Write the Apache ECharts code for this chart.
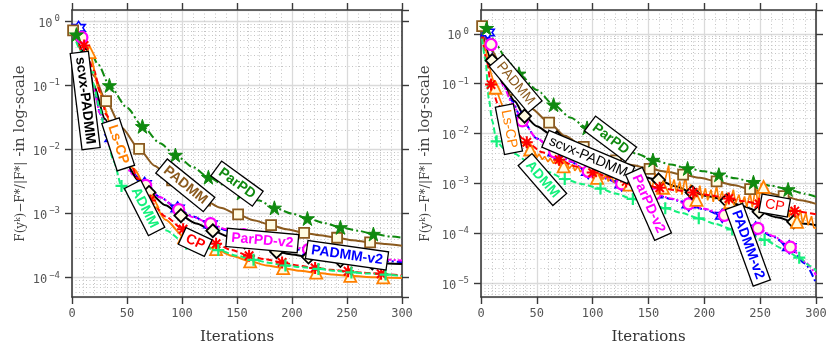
<!DOCTYPE html>
<html><head><meta charset="utf-8">
<script src="https://cdn.jsdelivr.net/npm/echarts@6/dist/echarts.min.js"></script>
<style>html,body{margin:0;padding:0;background:#fff}#c{width:830px;height:350px}</style>
</head><body><div id="c"></div>
<script>
// ---------------- DATA (iteration, relative error) ----------------
// Left panel
const L_PADMM   = [[1,0.72],[10,0.32],[20,0.14],[31,0.057],[45,0.022],[61,0.0102],[75,0.0056],[91,0.0033],[105,0.0022],[121,0.0016],[135,0.00123],[151,0.00097],[165,0.00079],[181,0.00066],[195,0.00057],[211,0.0005],[225,0.00046],[241,0.00042],[255,0.000385],[271,0.000355],[285,0.000335],[300,0.000315]];
const L_ParPD   = [[1,0.7],[4,0.62],[15,0.38],[24,0.21],[34,0.1],[50,0.045],[64,0.023],[80,0.0125],[94,0.0082],[110,0.0053],[124,0.0037],[140,0.0027],[154,0.0021],[170,0.0016],[184,0.00123],[200,0.001],[214,0.00084],[230,0.00071],[244,0.00061],[260,0.00054],[274,0.00048],[290,0.00044],[300,0.00042]];
const L_PADMMv2 = [[1,0.85],[6,0.79],[12,0.32],[20,0.085],[26,0.035],[30,0.024],[36,0.015],[42,0.0095],[48,0.0062],[55,0.0043],[66,0.0029],[80,0.0018],[96,0.0012],[110,0.0009],[126,0.00068],[140,0.00055],[156,0.00044],[170,0.00037],[186,0.00031],[200,0.00028],[216,0.00026],[230,0.000235],[246,0.000215],[260,0.0002],[276,0.00019],[290,0.00018],[300,0.000175]];
const L_ParPDv2 = [[1,0.8],[9,0.56],[15,0.2],[20,0.09],[25,0.038],[30,0.025],[38,0.013],[48,0.0058],[55,0.0041],[67,0.00275],[80,0.0018],[97,0.00115],[110,0.00088],[126,0.0007],[140,0.00057],[156,0.00047],[170,0.0004],[185,0.00034],[200,0.0003],[215,0.000275],[230,0.00025],[245,0.00023],[260,0.00021],[275,0.000197],[290,0.00019],[300,0.000185]];
const L_scvx    = [[1,0.75],[12,0.3],[20,0.1],[30,0.03],[41,0.011],[50,0.0058],[60,0.0033],[70,0.00214],[85,0.00135],[99,0.00093],[113,0.0007],[128,0.00054],[142,0.00044],[157,0.00036],[171,0.0003],[186,0.000255],[200,0.00023],[215,0.00021],[230,0.000195],[244,0.000185],[258,0.000175],[273,0.00017],[287,0.000166],[300,0.000163]];
const L_CP      = [[1,0.72],[11,0.42],[20,0.17],[26,0.075],[31,0.035],[41,0.014],[50,0.0085],[60,0.0035],[71,0.0016],[85,0.0009],[101,0.00057],[115,0.00044],[131,0.00034],[145,0.00027],[161,0.00022],[175,0.000195],[191,0.000173],[205,0.000155],[221,0.000142],[235,0.000133],[251,0.000126],[265,0.00012],[281,0.000115],[300,0.000108]];
const L_LsCP    = [[1,0.75],[8,0.55],[16,0.33],[25,0.08],[35,0.025],[44,0.011],[56,0.005],[73,0.00155],[85,0.0008],[102,0.00043],[116,0.00034],[131,0.00028],[145,0.00022],[162,0.00018],[177,0.000155],[192,0.000141],[207,0.000128],[222,0.00012],[237,0.000112],[253,0.000107],[268,0.000103],[283,0.000101],[300,0.000099]];
const L_ADMM    = [[1,0.65],[8,0.35],[15,0.16],[19,0.11],[25,0.045],[30,0.02],[38,0.0065],[45,0.0027],[55,0.0016],[65,0.00105],[74,0.00076],[85,0.00055],[104,0.00034],[118,0.0003],[133,0.00027],[150,0.00022],[165,0.00019],[180,0.00017],[194,0.000155],[210,0.000145],[224,0.000137],[240,0.000128],[254,0.000121],[270,0.000116],[285,0.000112],[300,0.000106]];
// Right panel
const R_PADMM   = [[1,1.43],[10,0.45],[20,0.17],[30,0.075],[45,0.032],[61,0.0166],[75,0.009],[92,0.0054],[106,0.0039],[121,0.0029],[135,0.00235],[151,0.00197],[166,0.00172],[181,0.0015],[196,0.0013],[211,0.0011],[226,0.00093],[241,0.00077],[256,0.00065],[271,0.00056],[286,0.00046],[300,0.00039]];
const R_ParPD   = [[1,1.4],[5,1.3],[15,0.55],[22,0.32],[34,0.158],[50,0.075],[65,0.038],[80,0.021],[95,0.013],[110,0.0082],[124,0.0056],[140,0.0039],[154,0.00295],[170,0.0024],[185,0.002],[200,0.00175],[213,0.0015],[228,0.00127],[244,0.00106],[260,0.0009],[275,0.00076],[290,0.00062],[300,0.00054]];
const R_PADMMv2 = [[1,1.1],[6,1.06],[12,0.35],[20,0.1],[28,0.045],[36,0.02],[50,0.008],[66,0.0042],[80,0.00275],[96,0.0017],[110,0.00128],[126,0.00096],[140,0.00076],[156,0.0006],[170,0.00049],[186,0.00038],[200,0.0003],[216,0.000225],[232,0.00017],[246,0.000125],[262,0.000085],[276,0.000053],[290,0.000025],[300,0.00001]];
const R_ParPDv2 = [[1,1.0],[9,0.61],[15,0.2],[20,0.09],[28,0.04],[37,0.018],[50,0.008],[66,0.0043],[80,0.0028],[96,0.00174],[110,0.0013],[126,0.00098],[140,0.00078],[156,0.00062],[170,0.0005],[186,0.00039],[200,0.00031],[218,0.00023],[232,0.000175],[248,0.000126],[262,0.000088],[277,0.000053],[290,0.000027],[300,0.0000145]];
const R_scvx    = [[1,1.0],[10,0.29],[20,0.1],[30,0.045],[39,0.0224],[50,0.014],[62,0.0098],[68,0.0082],[80,0.0056],[98,0.0032],[115,0.0021],[128,0.0016],[145,0.00135],[159,0.00118],[174,0.00088],[189,0.00066],[205,0.00055],[220,0.00045],[235,0.00035],[249,0.00027],[265,0.00021],[280,0.00017],[290,0.000155],[300,0.000145]];
const R_CP      = [[1,0.9],[5,0.3],[9,0.096],[15,0.04],[20,0.025],[30,0.011],[41,0.0067],[55,0.0042],[70,0.003],[85,0.0022],[100,0.00165],[115,0.00135],[130,0.0011],[145,0.00095],[160,0.00082],[175,0.00073],[190,0.00066],[205,0.00058],[222,0.0005],[235,0.00044],[249,0.00039],[265,0.00033],[281,0.00028],[300,0.00024]];
const R_LsCP    = [[1,1.0],[5,0.4],[9,0.16],[13,0.083],[20,0.032],[29,0.0114],[38,0.0062],[44,0.0048],[46,0.0036],[48,0.0044],[50,0.0033],[52,0.0039],[55,0.003],[57,0.0035],[60,0.0027],[62,0.0032],[65,0.0025],[67,0.003],[70,0.0023],[72,0.0027],[74,0.0022],[77,0.0026],[79,0.002],[82,0.0024],[84,0.0018],[87,0.0022],[89,0.0017],[92,0.002],[94,0.00155],[97,0.0019],[99,0.00145],[102,0.00175],[104,0.00129],[107,0.0016],[109,0.0012],[112,0.0015],[114,0.0011],[117,0.0014],[119,0.00105],[122,0.00135],[124,0.00098],[127,0.00125],[129,0.0009],[131,0.0012],[133,0.00095],[136,0.0013],[138,0.00085],[141,0.00115],[143,0.00078],[146,0.0014],[148,0.0008],[151,0.0011],[153,0.00075],[156,0.0016],[158,0.0008],[161,0.0013],[163,0.00082],[166,0.0015],[168,0.0023],[170,0.00075],[173,0.0012],[175,0.00065],[178,0.0011],[180,0.0006],[183,0.0014],[185,0.00065],[188,0.00095],[190,0.00055],[193,0.00047],[196,0.0009],[198,0.0005],[201,0.0008],[203,0.00046],[206,0.00075],[208,0.00043],[211,0.0009],[213,0.00045],[216,0.0007],[218,0.0004],[221,0.00065],[223,0.00042],[226,0.00075],[228,0.0004],[231,0.0006],[233,0.00036],[236,0.00055],[238,0.00034],[241,0.00065],[243,0.00033],[246,0.00085],[248,0.00038],[251,0.001],[253,0.00085],[256,0.00032],[258,0.0005],[261,0.00028],[263,0.00046],[266,0.00026],[268,0.00042],[271,0.00023],[273,0.00038],[276,0.00021],[278,0.00034],[281,0.00019],[283,0.00017],[286,0.0003],[288,0.00016],[291,0.00026],[293,0.000145],[296,0.00022],[298,0.00013],[300,0.000126]];
const R_ADMM    = [[1,0.8],[4,0.3],[7,0.05],[10,0.018],[14,0.007],[20,0.0052],[29,0.004],[45,0.0025],[60,0.0017],[75,0.00123],[90,0.00098],[107,0.00079],[120,0.00063],[136,0.00049],[150,0.0004],[165,0.00032],[180,0.000255],[195,0.0002],[210,0.000155],[225,0.00012],[240,0.000094],[254,0.000074],[270,0.00005],[285,0.0000325],[295,0.000022],[300,0.0000178]];

// iterations at which a marker is drawn
const L_MK = {
  PADMM:[1,31,61,91,121,151,181,211,241,271], ParPD:[4,34,64,94,124,154,184,214,244,274],
  PADMMv2:[6,36,66,96,126,156,186,216,246,276], ParPDv2:[9,38,67,97,126,156,185,215,245,275],
  scvx:[12,41,70,99,128,157,186,215,244,273], CP:[11,41,71,101,131,161,191,221,251,281],
  LsCP:[16,44,73,102,131,162,192,222,253,283], ADMM:[15,45,74,104,133,165,194,224,254,285]
};
const R_MK = {
  PADMM:[1,30,61,92,121,151,181,211,241,271], ParPD:[5,34,65,95,124,154,185,213,244,275],
  PADMMv2:[6,36,66,96,126,156,186,216,246,276], ParPDv2:[9,37,66,96,126,156,186,218,248,277],
  scvx:[10,39,68,98,128,159,189,220,249,280], CP:[9,41,70,100,130,160,190,222,249,281],
  LsCP:[13,44,74,104,133,163,193,223,253,283], ADMM:[14,45,75,107,136,165,195,225,254,285]
};

// text annotations: [text, method, iteration, value, angle, bold]
const L_NOTES = [
  ['scvx-PADMM','scvx',12,0.058,-83,true], ['Ls-CP','LsCP',42,0.012,-72,true],
  ['ADMM','ADMM',66,0.00123,-63,true], ['PADMM','PADMM',103,0.00276,-39,true],
  ['ParPD','ParPD',150,0.00294,-36,true], ['CP','CP',112,0.00036,-25,true],
  ['ParPD-v2','ParPDv2',173,0.00038,-5,true], ['PADMM-v2','PADMMv2',250,0.000224,-8,true]
];
const R_NOTES = [
  ['PADMM','PADMM',31,0.1,-50,false], ['Ls-CP','LsCP',25,0.0123,-79,false],
  ['ParPD','ParPD',116,0.0078,-37,true], ['scvx-PADMM','scvx',96,0.0034,-23,false],
  ['ADMM','ADMM',55,0.0012,-49,true], ['ParPD-v2','ParPDv2',150,0.00039,-66,true],
  ['CP','CP',263,0.00036,-10,false], ['PADMM-v2','PADMMv2',239,0.000059,-70,true]
];

// ---------------- STYLE ----------------
const CREAM = '#fffbe2';
const P_STAR5 = 'path://M50,0L61.2,34.5L97.6,34.5L68.2,55.9L79.4,90.5L50,69.1L20.6,90.5L31.8,55.9L2.4,34.5L38.8,34.5Z';
const P_STAR6 = 'path://M50,0L64.4,25L93.3,25L78.9,50L93.3,75L64.4,75L50,100L35.6,75L6.7,75L21.1,50L6.7,25L35.6,25Z';
const P_PLUS = 'path://M5,0L5,10M0,5L10,5';
const P_AST = 'path://M5,0L5,10M0,5L10,5M1.5,1.5L8.5,8.5M8.5,1.5L1.5,8.5';
const STY = {
  PADMMv2:{color:'#0000ff', type:[7,3,2,3], symbol:P_STAR6, size:13, fill:'#ffffff', bw:1.6},
  ParPDv2:{color:'#ff00ff', type:[2,2,6,2], symbol:'circle', size:11, fill:CREAM, bw:2.2},
  scvx:{color:'#000000', type:'solid', symbol:'diamond', size:13, fill:CREAM, bw:1.8},
  PADMM:{color:'#8b5a1e', type:'solid', symbol:'rect', size:10, fill:CREAM, bw:1.8},
  ParPD:{color:'#108a10', type:[8,3,2,3], symbol:P_STAR5, size:14, fill:'#108a10', bw:1},
  LsCP:{color:'#ff7f00', type:'solid', symbol:'triangle', size:12, fill:CREAM, bw:1.8},
  CP:{color:'#ff0000', type:[6,3], symbol:P_AST, size:12, fill:'#ff0000', bw:2},
  ADMM:{color:'#14f07c', type:[6,3], symbol:P_PLUS, size:12, fill:'#14f07c', bw:2.2}
};
const ORDER = ['PADMMv2','ParPDv2','scvx','PADMM','ParPD','LsCP','CP','ADMM'];
const LEFT = {PADMM:L_PADMM, ParPD:L_ParPD, PADMMv2:L_PADMMv2, ParPDv2:L_ParPDv2, scvx:L_scvx, CP:L_CP, LsCP:L_LsCP, ADMM:L_ADMM};
const RIGHT = {PADMM:R_PADMM, ParPD:R_ParPD, PADMMv2:R_PADMMv2, ParPDv2:R_ParPDv2, scvx:R_scvx, CP:R_CP, LsCP:R_LsCP, ADMM:R_ADMM};

const AXC = '#3a3a3a';
function xAx(gi, top) {
  return {
    type:'value', gridIndex:gi, position: top ? 'top' : 'bottom', min:0, max:300, interval:50,
    axisLine:{show:true, onZero:false, lineStyle:{color:AXC, width:1.6}},
    axisTick:{show:true, length:7, lineStyle:{color:AXC, width:1.4}},
    axisLabel:{show:!top, color:'#555', fontFamily:'DejaVu Sans Mono', fontSize:12, margin:11},
    splitLine:{show:!top, lineStyle:{color:'#dadada', width:1.3}},
    minorTick:{show:false, splitNumber:5},
    minorSplitLine:{show:!top, lineStyle:{color:'#c4c4c4', type:[1,2.5], width:1}},
    name: top ? '' : 'Iterations', nameLocation:'middle', nameGap:33,
    nameTextStyle:{fontFamily:'DejaVu Serif', fontSize:15, color:'#333'}
  };
}
function logLabel(v) {
  const e = Math.round(Math.log10(v));
  if (Math.abs(Math.log10(v) - e) > 1e-6) return '';
  return '{b|10}{e|' + (e < 0 ? '\u2212' + (-e) : e) + '}';
}
function yAx(gi, right, min, max) {
  return {
    type:'log', logBase:10, gridIndex:gi, position: right ? 'right' : 'left', min:min, max:max,
    axisLine:{show:true, onZero:false, lineStyle:{color:AXC, width:1.6}},
    axisTick:{show:true, length:7, lineStyle:{color:AXC, width:1.4}},
    axisLabel:{show:!right, showMinLabel:false, showMaxLabel:false, margin:12, formatter:logLabel,
      rich:{b:{fontFamily:'DejaVu Sans Mono', fontSize:12, color:'#555', padding:[5,0,0,0]},
            e:{fontFamily:'DejaVu Sans Mono', fontSize:9, color:'#555', padding:[0,0,5,2]}}},
    splitLine:{show:!right, lineStyle:{color:'#dadada', width:1.3}},
    minorTick:{show:false, splitNumber:9},
    minorSplitLine:{show:!right, lineStyle:{color:'#c4c4c4', type:[1,2.5], width:1}},
    name: right ? '' : '{f|F(y\u1d4f)\u2212F*}{s|/}{f||F*|}{t| -in log-scale}',
    nameLocation:'middle', nameGap: gi === 0 ? 44 : 48, nameRotate:90,
    nameTextStyle:{rich:{f:{fontFamily:'DejaVu Serif', fontSize:12, color:'#444'},
      s:{fontFamily:'DejaVu Serif', fontSize:13, color:'#444'},
      t:{fontFamily:'DejaVu Serif', fontSize:15, color:'#444'}}}
  };
}

function lineSeries(gi, key, pts, marks) {
  const s = STY[key];
  return {
    type:'line', xAxisIndex:gi*2, yAxisIndex:gi*2, data:pts,
    smooth: (gi === 1 && key === 'LsCP') ? false : 0.25, smoothMonotone:'x',
    symbol:s.symbol, showSymbol:true, showAllSymbol:true,
    symbolSize:function (v) { return marks.indexOf(v[0]) >= 0 ? s.size : 0; },
    lineStyle:{color:s.color, width:(gi === 1 && key === 'LsCP') ? 1.6 : 2, type:s.type},
    itemStyle:{color:s.fill, borderColor:s.color, borderWidth:s.bw},
    emphasis:{disabled:true}, silent:true, z:2
  };
}
function noteSeries(gi, notes) {
  return {
    type:'scatter', xAxisIndex:gi*2, yAxisIndex:gi*2, symbol:'circle', symbolSize:0,
    itemStyle:{color:'#ffffff', opacity:1}, silent:true, z:20,
    emphasis:{disabled:true},
    data: notes.map(function (n) {
      return {value:[n[2], n[3]], label:{
        show:true, position:'inside', formatter:n[0], rotate:n[4], opacity:1,
        color: STY[n[1]].color, fontFamily:'Liberation Sans', fontSize:14,
        fontWeight: n[5] ? 'bold' : 'normal',
        backgroundColor:'#ffffff', borderColor:'#000', borderWidth:1.3, padding:[2,4,1,4]}};
    })
  };
}

const series = [];
[LEFT, RIGHT].forEach(function (D, gi) {
  const MK = gi === 0 ? L_MK : R_MK;
  ORDER.forEach(function (k) { series.push(lineSeries(gi, k, D[k], MK[k])); });
  series.push(noteSeries(gi, gi === 0 ? L_NOTES : R_NOTES));
});

const chart = echarts.init(document.getElementById('c'), null, {renderer:'canvas'});
chart.setOption({
  animation:false,
  backgroundColor:'#ffffff',
  grid:[{left:72, right:428, top:10, bottom:46}, {left:481, right:14, top:10, bottom:46}],
  xAxis:[xAx(0,false), xAx(0,true), xAx(1,false), xAx(1,true)],
  yAxis:[yAx(0,false,5e-5,1.5), yAx(0,true,5e-5,1.5), yAx(1,false,5.3e-6,3), yAx(1,true,5.3e-6,3)],
  series:series
});
</script></body></html>
